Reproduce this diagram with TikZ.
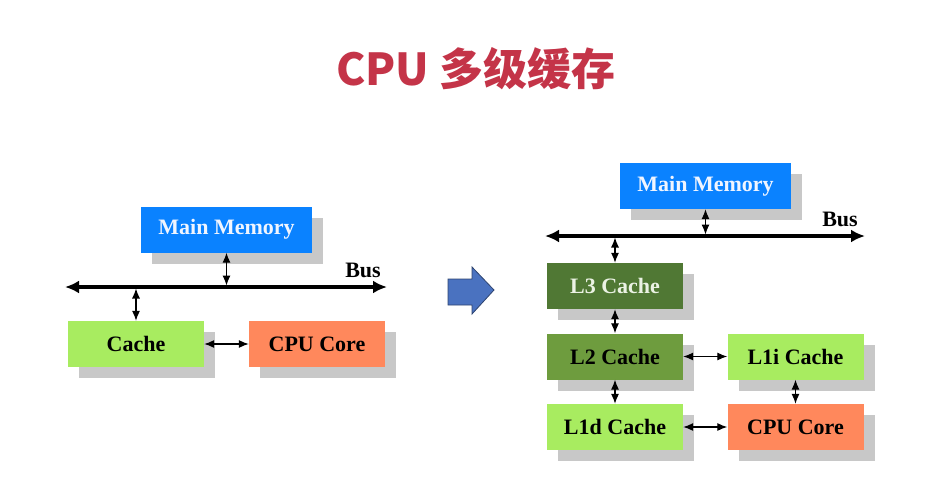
\documentclass[tikz,border=0pt]{standalone}
\usepackage{fontspec}
\setmainfont{Liberation Serif}
\newfontfamily\cjk{Noto Sans CJK SC}
\usetikzlibrary{arrows.meta,shadows}
\definecolor{titlered}{RGB}{196,52,72}
\definecolor{memblue}{RGB}{10,130,255}
\definecolor{lightgreen}{RGB}{168,236,96}
\definecolor{coreorange}{RGB}{255,136,92}
\definecolor{darkgreen}{RGB}{80,120,52}
\definecolor{midgreen}{RGB}{110,156,62}
\definecolor{shadowgray}{RGB}{200,200,200}
\definecolor{arrowblue}{RGB}{74,114,192}
\definecolor{arrowedge}{RGB}{46,68,112}
\tikzset{
  box/.style={rectangle, inner sep=0pt, minimum width=136pt, minimum height=46pt,
    font=\fontsize{22}{25}\selectfont\bfseries,
    drop shadow={shadow xshift=11pt, shadow yshift=-11pt, fill=shadowgray, opacity=1}},
  membox/.style={box, fill=memblue, text={rgb,255:red,240;green,245;blue,255}, minimum width=171pt},
  l1box/.style={box, fill=lightgreen},
  corebox/.style={box, fill=coreorange},
  l3box/.style={box, fill=darkgreen, text={rgb,255:red,235;green,242;blue,228}},
  l2box/.style={box, fill=midgreen},
  link/.style={{Latex[length=10pt,width=8pt]}-{Latex[length=10pt,width=8pt]}, line width=1.1pt},
  busline/.style={{Latex[length=14pt,width=13pt]}-{Latex[length=14pt,width=13pt]}, line width=3.2pt},
  buslabel/.style={font=\fontsize{22}{25}\selectfont\bfseries, inner sep=0pt},
}
\begin{document}
\begin{tikzpicture}[x=1pt,y=-1pt]
\useasboundingbox (0,0) rectangle (926,482);
\fill[white] (0,0) rectangle (926,482);

% title
\node[font=\cjk\bfseries\fontsize{44}{50}\selectfont, text=titlered] (title) at (476,69) {CPU 多级缓存};

% ---------------- left diagram
\node[membox] (mmL) at (226.5,229.5) {Main Memory};
\node[l1box] (cacheL) at (136,344) {Cache};
\node[corebox] (cpuL) at (317,344) {CPU Core};
\coordinate (busLa) at (65,287);
\coordinate (busLb) at (387,287);
\coordinate (busLmm) at (226.5,287);
\coordinate (busLc) at (136,287);
\draw[busline] (busLa) -- (busLb);
\node[buslabel] (busLlab) at (363,270) {Bus};
\draw[link, shorten >=1.5pt] (mmL.south) -- (busLmm);
\draw[link, shorten >=1.5pt] (cacheL.north) -- (busLc);
\draw[link] (cacheL.east) -- (cpuL.west);

% ---------------- middle block arrow
\filldraw[fill=arrowblue, draw=arrowedge, line width=0.8pt]
  (448,279) -- (472,279) -- (472,267) -- (494,290) -- (472,314) -- (472,305) -- (448,305) -- cycle;

% ---------------- right diagram
\node[membox] (mmR) at (705.5,186) {Main Memory};
\coordinate (busRa) at (545,236);
\coordinate (busRb) at (865,236);
\coordinate (busRmm) at (705.5,236);
\coordinate (busRl3) at (615,236);
\draw[busline] (busRa) -- (busRb);
\node[buslabel] (busRlab) at (840,219) {Bus};
\node[l3box] (l3) at (615,286) {L3 Cache};
\node[l2box] (l2) at (615,356.5) {L2 Cache};
\node[l1box] (l1i) at (795.5,356.5) {L1i Cache};
\node[l1box] (l1d) at (615,427) {L1d Cache};
\node[corebox] (cpuR) at (795.5,427) {CPU Core};
\draw[link, shorten >=1.5pt] (mmR.south) -- (busRmm);
\draw[link, shorten >=1.5pt] (l3.north) -- (busRl3);
\draw[link] (l3.south) -- (l2.north);
\draw[link] (l2.south) -- (l1d.north);
\draw[link] (l2.east) -- (l1i.west);
\draw[link] (l1i.south) -- (cpuR.north);
\draw[link] (l1d.east) -- (cpuR.west);
\end{tikzpicture}
\end{document}
